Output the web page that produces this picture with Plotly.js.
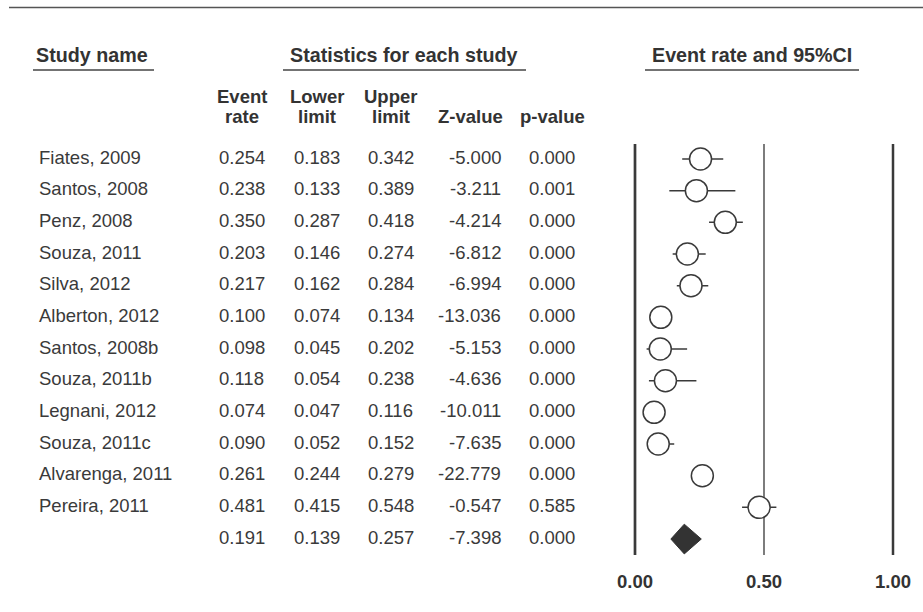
<!DOCTYPE html>
<html>
<head>
<meta charset="utf-8">
<script src="https://cdn.plot.ly/plotly-3.0.1.min.js"></script>
<style>html,body{margin:0;padding:0;background:#fff;}#chart{width:923px;height:612px;}</style>
</head>
<body>
<div id="chart"></div>
<script>
// ---- data ----
var studies = ["Fiates, 2009","Santos, 2008","Penz, 2008","Souza, 2011","Silva, 2012","Alberton, 2012","Santos, 2008b","Souza, 2011b","Legnani, 2012","Souza, 2011c","Alvarenga, 2011","Pereira, 2011"];
var eventRate  = [0.254,0.238,0.350,0.203,0.217,0.100,0.098,0.118,0.074,0.090,0.261,0.481];
var lowerLimit = [0.183,0.133,0.287,0.146,0.162,0.074,0.045,0.054,0.047,0.052,0.244,0.415];
var upperLimit = [0.342,0.389,0.418,0.274,0.284,0.134,0.202,0.238,0.116,0.152,0.279,0.548];
var zValue     = [-5.000,-3.211,-4.214,-6.812,-6.994,-13.036,-5.153,-4.636,-10.011,-7.635,-22.779,-0.547];
var pValue     = [0.000,0.001,0.000,0.000,0.000,0.000,0.000,0.000,0.000,0.000,0.000,0.585];
var summaryRate = 0.191, summaryLower = 0.139, summaryUpper = 0.257, summaryZ = -7.398, summaryP = 0.000;
var tickValues = [0, 0.5, 1];
var tickLabels = ["0.00","0.50","1.00"];
var columnHeadTop = ["Event","Lower","Upper"];
var columnHeadBottom = ["rate","limit","limit","Z-value","p-value"];

// ---- layout geometry ----
var W = 923, H = 612, B = 44, plotH = H - B;
var row0 = 159, rowStep = 31.67;
function pxRow(p){ return (p - row0) / rowStep; }
function py(p){ return 1 - p / plotH; }
function pxX(p){ return p / W; }
var x0px = 635, x1px = 893, pad = 0.03;
var unit = x1px - x0px;
var domL = (x0px - pad*unit)/W, domR = (x1px + pad*unit)/W;

var FONT = "Liberation Sans, Arial, Helvetica, sans-serif";
var TXT = "#3a3a3a", HEAD = "#333333", LINE = "#3a3a3a";
var bodySize = 18.5, headSize = 19.7;

var n = studies.length;
var rows = studies.map(function(_, i){ return i; });
var sumRow = n;

var traces = [];
traces.push({
  type: "scatter", mode: "markers",
  x: eventRate, y: rows,
  error_x: {type: "data", symmetric: false,
    array: eventRate.map(function(v,i){ return upperLimit[i]-v; }),
    arrayminus: eventRate.map(function(v,i){ return v-lowerLimit[i]; }),
    thickness: 1.5, width: 0, color: LINE},
  marker: {symbol: "circle", size: 22, color: "#ffffff", line: {color: LINE, width: 1.5}},
  hoverinfo: "skip", cliponaxis: false
});
var dh = 0.47;
traces.push({
  type: "scatter", mode: "lines",
  x: [summaryLower, summaryRate, summaryUpper, summaryRate, summaryLower],
  y: [sumRow, sumRow - dh, sumRow, sumRow + dh, sumRow],
  fill: "toself", fillcolor: "#333333", line: {color: "#333333", width: 1},
  hoverinfo: "skip"
});

var ann = [];
function addText(txt, x, y, xanchor, opts){
  opts = opts || {};
  ann.push({text: txt, x: x, y: y, xref: "paper", yref: opts.yref || "y",
    xanchor: xanchor, yanchor: "middle", showarrow: false, yshift: opts.yshift || 0,
    font: {family: FONT, size: opts.size || bodySize, color: opts.color || TXT, weight: opts.weight || 400}});
}
var colEvent = 241.5, colLower = 316.5, colUpper = 390.5, colZRight = 503.5, colP = 551.5;
var allNames = studies.concat([""]);
var allRate = eventRate.concat([summaryRate]);
var allLow = lowerLimit.concat([summaryLower]);
var allUp = upperLimit.concat([summaryUpper]);
var allZ = zValue.concat([summaryZ]);
var allP = pValue.concat([summaryP]);
for (var i = 0; i <= n; i++) {
  var ys = {yshift: 2};
  if (allNames[i]) addText(allNames[i], pxX(37), i, "left", ys);
  addText(allRate[i].toFixed(3), pxX(colEvent), i, "center", ys);
  addText(allLow[i].toFixed(3), pxX(colLower), i, "center", ys);
  addText(allUp[i].toFixed(3), pxX(colUpper), i, "center", ys);
  addText(allZ[i].toFixed(3), pxX(colZRight), i, "right", ys);
  addText(allP[i].toFixed(3), pxX(colP), i, "center", ys);
}
// headers
var hb = {yref: "paper", size: headSize, weight: 700, color: HEAD};
addText("Study name", pxX(34), py(55.3), "left", hb);
addText("Statistics for each study", pxX(404), py(55.3), "center", hb);
addText("Event rate and 95%CI", pxX(752), py(55.3), "center", hb);
var cols = [colEvent, colLower, colUpper];
var ch = {yref: "paper", size: bodySize, weight: 700, color: HEAD};
for (var k = 0; k < columnHeadTop.length; k++) addText(columnHeadTop[k], pxX(cols[k]), py(96.6), "center", ch);
var cols2 = [colEvent, colLower, colUpper, 470.5, 552.5];
for (var k2 = 0; k2 < columnHeadBottom.length; k2++) addText(columnHeadBottom[k2], pxX(cols2[k2]), py(116.6), "center", ch);

var shapes = [];
function hline(xa, xb, ypx, w, c){
  shapes.push({type: "line", xref: "paper", yref: "paper", x0: pxX(xa), x1: pxX(xb), y0: py(ypx), y1: py(ypx),
    line: {color: c, width: w}});
}
hline(9, 923, 7.5, 1.6, "#555555");
hline(33, 154, 70, 1.6, "#444444");
hline(283, 526, 70, 1.6, "#444444");
hline(645, 859, 70, 1.6, "#444444");
var vStyles = [{w: 2.7, c: "#3a3a3a"}, {w: 1.7, c: "#666666"}, {w: 2.5, c: "#3a3a3a"}];
tickValues.forEach(function(v, j){
  shapes.push({type: "line", xref: "x", yref: "y", x0: v, x1: v, y0: pxRow(144), y1: pxRow(555),
    layer: "below", line: {color: vStyles[j].c, width: vStyles[j].w}});
});

var layout = {
  width: W, height: H,
  margin: {l: 0, r: 0, t: 0, b: B, pad: 0},
  paper_bgcolor: "#ffffff", plot_bgcolor: "#ffffff",
  showlegend: false,
  xaxis: {domain: [domL, domR], range: [-pad, 1 + pad], tickvals: tickValues, ticktext: tickLabels,
    showgrid: false, zeroline: false, showline: false, ticks: "", automargin: false, fixedrange: true,
    tickfont: {family: FONT, size: bodySize, color: HEAD, weight: 700}},
  yaxis: {range: [pxRow(plotH), pxRow(0)], visible: false, showgrid: false, zeroline: false, fixedrange: true, automargin: false},
  annotations: ann,
  shapes: shapes
};
Plotly.newPlot("chart", traces, layout, {staticPlot: true, displayModeBar: false});
</script>
</body>
</html>
